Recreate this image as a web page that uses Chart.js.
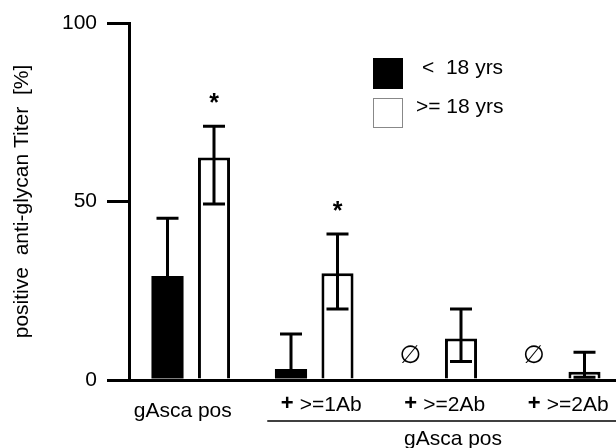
<!DOCTYPE html>
<html>
<head>
<meta charset="utf-8">
<script src="https://cdn.jsdelivr.net/npm/chart.js@4.4.1/dist/chart.umd.min.js"></script>
<style>
html,body{margin:0;padding:0;background:#fff;overflow:hidden;}
#wrap{width:616px;height:448px;overflow:hidden;}
canvas{display:block;}
</style>
</head>
<body>
<div id="wrap"><canvas id="c" width="623" height="448"></canvas></div>
<script>
// ---- data ----
const categories = ['gAsca pos', '+ >=1Ab', '+ >=2Ab', '+ >=2Ab'];
const groupLabel = 'gAsca pos';
const seriesNames = ['<  18 yrs', '>= 18 yrs'];
const under18 = [29.1, 3.1, null, null];
const under18Upper = [45.3, 12.9, null, null];
const adult = [62.3, 29.9, 11.6, 2.3];
const adultUpper = [71.1, 40.9, 19.9, 7.8];
const adultLower = [49.3, 19.9, 5.2, 0.8];
const adultSignificant = [true, true, false, false];
const yTicks = [0, 50, 100];
const yTitle = 'positive  anti-glycan Titer  [%]';

const FONT = "'Liberation Sans', Arial, sans-serif";

const overlay = {
  id: 'overlay',
  afterDatasetsDraw(chart) {
    const ctx = chart.ctx;
    const y = chart.scales.y;
    const drawErr = (meta, upper, lower) => {
      meta.data.forEach((bar, i) => {
        if (upper[i] == null) return;
        const x = bar.x;
        const top = y.getPixelForValue(upper[i]);
        const bot = lower && lower[i] != null ? y.getPixelForValue(lower[i]) : bar.y;
        ctx.save();
        ctx.strokeStyle = '#000';
        ctx.lineWidth = 3;
        ctx.beginPath();
        ctx.moveTo(x, top); ctx.lineTo(x, bot);
        ctx.moveTo(x - 11, top); ctx.lineTo(x + 11, top);
        if (lower && lower[i] != null) { ctx.moveTo(x - 11, bot); ctx.lineTo(x + 11, bot); }
        ctx.stroke();
        ctx.restore();
      });
    };
    drawErr(chart.getDatasetMeta(0), under18Upper, null);
    drawErr(chart.getDatasetMeta(1), adultUpper, adultLower);
  },
  afterDraw(chart) {
    const ctx = chart.ctx;
    const xs = chart.scales.x;
    const y = chart.scales.y;
    ctx.save();
    ctx.fillStyle = '#000';
    ctx.textBaseline = 'middle';
    // significance stars
    const m1 = chart.getDatasetMeta(1);
    adultSignificant.forEach((s, i) => {
      if (!s) return;
      ctx.font = 'bold 25px ' + FONT;
      ctx.textAlign = 'center';
      ctx.fillText('*', m1.data[i].x, y.getPixelForValue(adultUpper[i]) - 22);
    });
    // empty-set markers where no under-18 value
    const m0 = chart.getDatasetMeta(0);
    under18.forEach((v, i) => {
      if (v != null) return;
      ctx.font = '25px "DejaVu Sans", ' + FONT;
      ctx.textAlign = 'center';
      ctx.fillText('\u2205', m0.data[i].x - 4, y.getPixelForValue(6.5));
    });
    // category labels
    categories.forEach((lab, i) => {
      const cx = xs.getPixelForValue(i);
      if (lab.startsWith('+ ')) {
        const rest = lab.slice(2);
        ctx.font = 'bold 22px ' + FONT;
        const pw = ctx.measureText('+ ').width;
        ctx.font = '21px ' + FONT;
        const rw = ctx.measureText(rest).width;
        const start = cx + 7 - (pw + rw) / 2;
        ctx.textAlign = 'left';
        ctx.font = 'bold 22px ' + FONT;
        ctx.fillText('+', start, 404);
        ctx.font = '21px ' + FONT;
        ctx.fillText(rest, start + pw, 405);
      } else {
        ctx.textAlign = 'center';
        ctx.font = '21px ' + FONT;
        ctx.fillText(lab, cx - 8, 411);
      }
    });
    // group bracket line + label
    const gx1 = xs.getPixelForValue(1) - 47;
    ctx.strokeStyle = '#000';
    ctx.lineWidth = 1.5;
    ctx.beginPath();
    ctx.moveTo(gx1, 421); ctx.lineTo(chart.width, 421);
    ctx.stroke();
    ctx.textAlign = 'center';
    ctx.font = '21px ' + FONT;
    ctx.fillText(groupLabel, 453, 439);
    // legend
    ctx.fillStyle = '#000';
    ctx.fillRect(373, 58, 30, 31);
    ctx.fillStyle = '#fff';
    ctx.fillRect(373, 98, 30, 30);
    ctx.strokeStyle = '#888';
    ctx.lineWidth = 1;
    ctx.strokeRect(373.5, 98.5, 29, 29);
    ctx.fillStyle = '#000';
    ctx.textAlign = 'left';
    ctx.font = '21px ' + FONT;
    ctx.fillText(seriesNames[0], 422, 68);
    ctx.fillText(seriesNames[1], 416, 107);
    ctx.restore();
  }
};

new Chart(document.getElementById('c'), {
  type: 'bar',
  data: {
    labels: categories,
    datasets: [
      { label: seriesNames[0], data: under18, backgroundColor: '#000', borderColor: '#000', borderWidth: 0 },
      { label: seriesNames[1], data: adult, backgroundColor: '#fff', borderColor: '#000', borderWidth: 3 }
    ]
  },
  options: {
    responsive: false,
    animation: false,
    devicePixelRatio: 1,
    categoryPercentage: 0.753,
    barPercentage: 0.69,
    layout: { padding: { top: 23, left: 0, right: 0, bottom: 0 } },
    plugins: { legend: { display: false }, tooltip: { enabled: false } },
    scales: {
      x: {
        type: 'category',
        ticks: { display: false },
        grid: { display: false },
        border: { display: true, color: '#000', width: 3 },
        afterFit(s) { s.height = 68; }
      },
      y: {
        min: 0, max: 100,
        afterBuildTicks(s) { s.ticks = yTicks.map(v => ({ value: v })); },
        ticks: { color: '#000', padding: 10, font: { size: 21, family: FONT } },
        grid: { drawOnChartArea: false, drawTicks: true, tickLength: 22, tickWidth: 3, tickColor: '#000', color: '#000', lineWidth: 3 },
        border: { display: true, color: '#000', width: 3 },
        title: { display: true, text: yTitle, color: '#000', font: { size: 21, family: FONT }, padding: { top: 10, bottom: 0 } },
        afterFit(s) { s.width = 129; }
      }
    }
  },
  plugins: [overlay]
});
</script>
</body>
</html>
